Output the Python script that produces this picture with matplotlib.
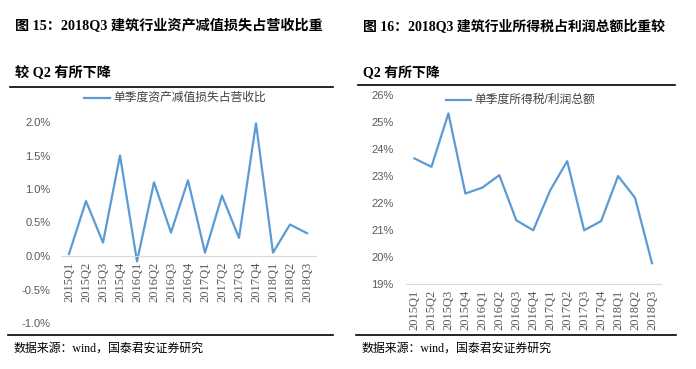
import matplotlib
matplotlib.use("Agg")
import matplotlib.pyplot as plt
from matplotlib.lines import Line2D
from matplotlib.ticker import FuncFormatter

plt.rcParams['font.family'] = ['Liberation Sans', 'Noto Sans CJK SC', 'DejaVu Sans']

quarters = ["2015Q1", "2015Q2", "2015Q3", "2015Q4", "2016Q1", "2016Q2", "2016Q3", "2016Q4",
            "2017Q1", "2017Q2", "2017Q3", "2017Q4", "2018Q1", "2018Q2", "2018Q3"]
impairment = [0.03, 0.82, 0.20, 1.50, -0.08, 1.10, 0.35, 1.13, 0.05, 0.90, 0.27, 1.98, 0.05, 0.47, 0.34]
tax_ratio = [23.65, 23.34, 25.32, 22.35, 22.57, 23.03, 21.36, 20.99, 22.47, 23.55, 20.99, 21.33, 23.00, 22.19, 19.77]

title_left = ["图 15：2018Q3 建筑行业资产减值损失占营收比重", "较 Q2 有所下降"]
title_right = ["图 16：2018Q3 建筑行业所得税占利润总额比重较", "Q2 有所下降"]
legend_left = "单季度资产减值损失占营收比"
legend_right = "单季度所得税/利润总额"
source = "数据来源：wind，国泰君安证券研究"

W, H = 696, 369
blue = "#5B9BD5"
gray = "#595959"
serif = ['Liberation Serif', 'Noto Sans CJK SC']

fig = plt.figure(figsize=(W / 100, H / 100), dpi=100)


def px_rect(x0, y0, x1, y1):
    return [x0 / W, 1 - y1 / H, (x1 - x0) / W, (y1 - y0) / H]


def hline(x0, x1, y, lw=1.2):
    fig.add_artist(Line2D([x0 / W, x1 / W], [1 - y / H, 1 - y / H], color="black", lw=lw))


def setup(ax, values, ylim, step, fmt, base, ypad):
    x = list(range(len(quarters)))
    ax.plot(x, values, color=blue, lw=1.6)
    ax.set_xlim(-0.5, len(quarters) - 0.5)
    ax.set_ylim(*ylim)
    ticks = []
    v = ylim[0]
    while v <= ylim[1] + 1e-9:
        ticks.append(round(v, 4))
        v += step
    ax.set_yticks(ticks)
    ax.yaxis.set_major_formatter(FuncFormatter(fmt))
    for s in ["top", "right", "left"]:
        ax.spines[s].set_visible(False)
    ax.spines["bottom"].set_position(("data", base))
    ax.spines["bottom"].set_color("#D9D9D9")
    ax.set_xticks(x)
    ax.set_xticklabels(quarters, rotation=90, family=serif, fontsize=9, color=gray)
    ax.tick_params(axis="x", length=0, pad=4)
    ax.tick_params(axis="y", length=0, labelsize=8, labelcolor=gray, pad=ypad)
    ax.patch.set_alpha(0)


# left chart
ax1 = fig.add_axes(px_rect(60.5, 122, 315.5, 323))
setup(ax1, impairment, (-1.0, 2.0), 0.5, lambda v, p: f"{v:.1f}%", 0, 7)
fig.text(15 / W, 1 - 26 / H, title_left[0], family=serif, fontweight="bold", fontsize=10.2, va="center")
fig.text(15 / W, 1 - 73 / H, title_left[1], family=serif, fontweight="bold", fontsize=10.2, va="center")
hline(10, 333, 87)
hline(8, 333, 335)
fig.add_artist(Line2D([84 / W, 110 / W], [1 - 98 / H] * 2, color=blue, lw=1.6))
fig.text(113 / W, 1 - 98 / H, legend_left, fontsize=8.5, color="#404040", va="center")
fig.text(13 / W, 1 - 349 / H, source, family=serif, fontsize=8.6, va="center")

# right chart
ax2 = fig.add_axes(px_rect(406, 95, 660.5, 284))
setup(ax2, tax_ratio, (19, 26), 1, lambda v, p: f"{v:.0f}%", 19, 9)
fig.text(363 / W, 1 - 26 / H, title_right[0], family=serif, fontweight="bold", fontsize=10, va="center")
fig.text(363 / W, 1 - 73 / H, title_right[1], family=serif, fontweight="bold", fontsize=10, va="center")
hline(358, 675, 85)
hline(356, 676, 335)
fig.add_artist(Line2D([446 / W, 471 / W], [1 - 100 / H] * 2, color=blue, lw=1.6))
fig.text(474 / W, 1 - 100 / H, legend_right, fontsize=8.5, color="#404040", va="center")
fig.text(361 / W, 1 - 349 / H, source, family=serif, fontsize=8.6, va="center")

fig.savefig("out.png", dpi=100)
